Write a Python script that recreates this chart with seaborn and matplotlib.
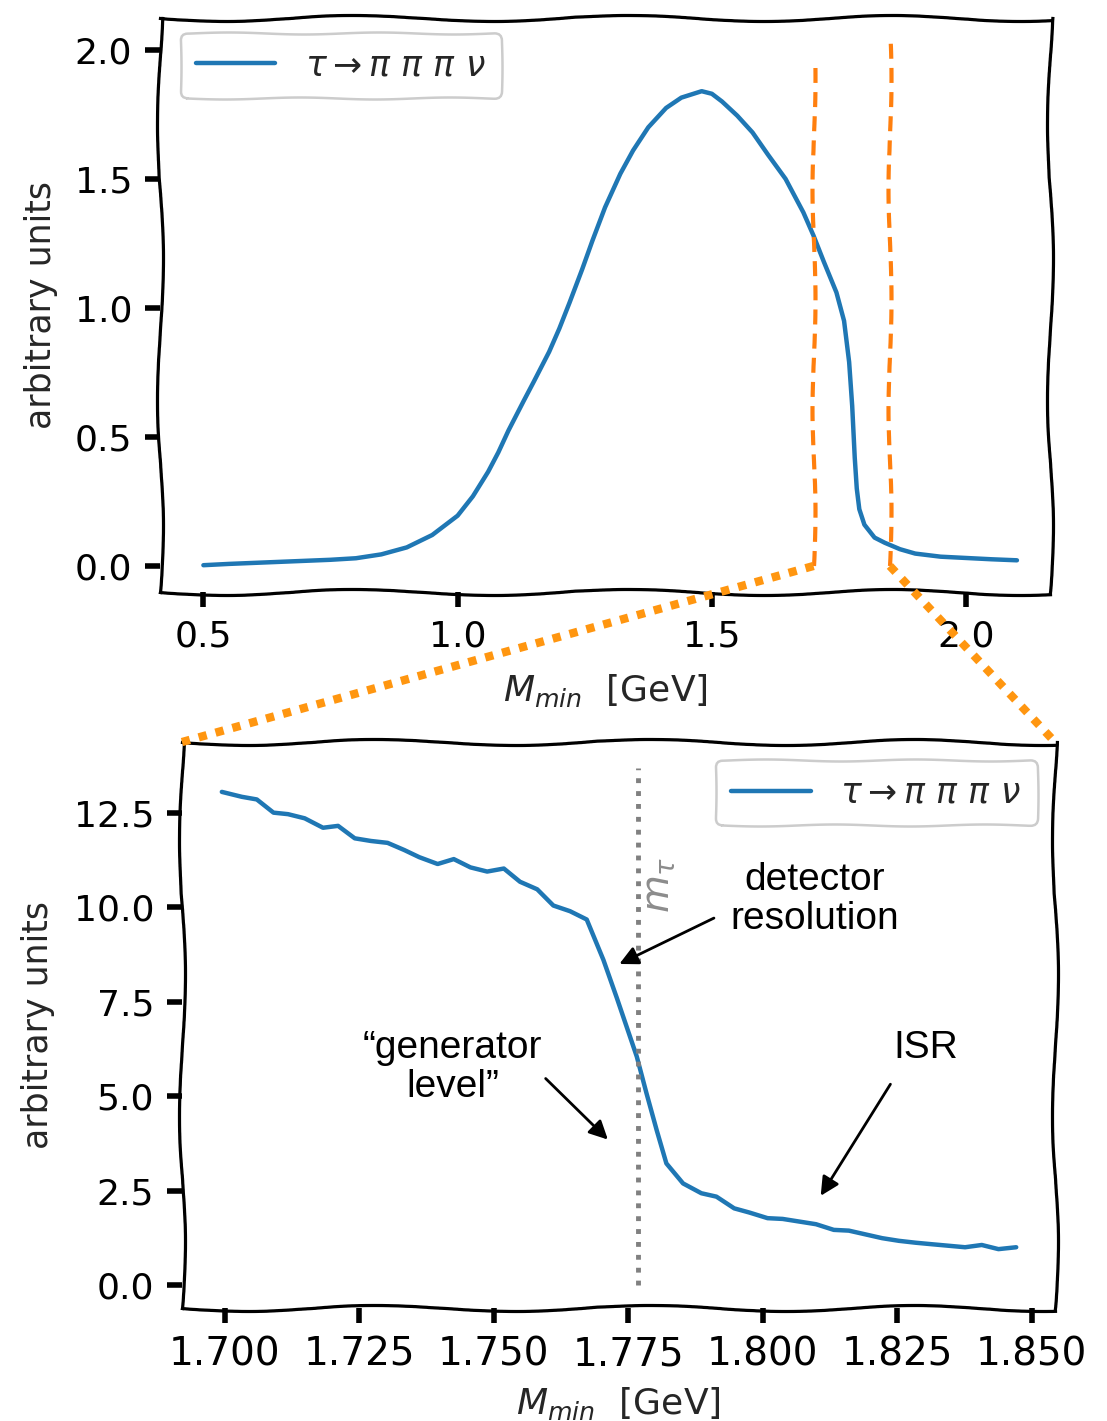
import matplotlib
matplotlib.use("Agg")
import matplotlib.pyplot as plt
import matplotlib.ticker as mticker
from matplotlib.patches import ConnectionPatch
import seaborn as sns

# ---------------- data ----------------
m_full = [0.50, 0.55, 0.60, 0.65, 0.70, 0.75, 0.80, 0.85, 0.90, 0.95,
          1.00, 1.03, 1.06, 1.08, 1.10, 1.13, 1.15, 1.18, 1.20, 1.22,
          1.245, 1.265, 1.29, 1.32, 1.345, 1.375, 1.41, 1.44, 1.48, 1.50,
          1.52, 1.55, 1.58, 1.61, 1.645, 1.68, 1.70, 1.72, 1.745, 1.76,
          1.77, 1.776, 1.781, 1.785, 1.79, 1.80, 1.82, 1.84, 1.87, 1.90,
          1.95, 2.00, 2.05, 2.10]
au_full = [0.003, 0.008, 0.012, 0.016, 0.020, 0.024, 0.030, 0.045, 0.072, 0.120,
           0.195, 0.27, 0.365, 0.44, 0.525, 0.64, 0.715, 0.83, 0.92, 1.02,
           1.15, 1.26, 1.39, 1.52, 1.61, 1.70, 1.775, 1.815, 1.84, 1.83,
           1.80, 1.745, 1.68, 1.595, 1.50, 1.37, 1.28, 1.18, 1.06, 0.95,
           0.79, 0.62, 0.42, 0.30, 0.22, 0.16, 0.11, 0.09, 0.065, 0.048,
           0.036, 0.031, 0.026, 0.022]

m_zoom = [1.6995, 1.7032, 1.7060, 1.7091, 1.7118, 1.7149, 1.7183, 1.7211, 1.7242, 1.7272,
          1.7303, 1.7334, 1.7362, 1.7396, 1.7426, 1.7457, 1.7488, 1.7519, 1.7549, 1.7581,
          1.7611, 1.7642, 1.7673, 1.7704, 1.7729, 1.7766, 1.7784, 1.7803, 1.7821, 1.7852,
          1.7886, 1.7914, 1.7947, 1.7975, 1.8009, 1.8037, 1.8068, 1.8099, 1.8132, 1.8160,
          1.8191, 1.8222, 1.8253, 1.8284, 1.8314, 1.8345, 1.8376, 1.8407, 1.8438, 1.8471]
au_zoom = [13.06, 12.93, 12.86, 12.51, 12.47, 12.36, 12.11, 12.16, 11.83, 11.76,
           11.71, 11.52, 11.33, 11.15, 11.28, 11.06, 10.95, 11.03, 10.68, 10.48,
           10.05, 9.90, 9.68, 8.61, 7.60, 6.05, 5.08, 4.10, 3.22, 2.69,
           2.43, 2.34, 2.03, 1.92, 1.77, 1.75, 1.68, 1.61, 1.46, 1.44,
           1.34, 1.24, 1.17, 1.12, 1.08, 1.04, 1.00, 1.06, 0.95, 1.00]

zoom_window = [1.70, 1.85]
window_line_tops = [1.93, 2.04]
m_tau = 1.77686
m_tau_line_top = 13.7
legend_label = r'$\tau \rightarrow \pi\ \pi\ \pi\ \nu$'

x_ticks_top = [0.5, 1.0, 1.5, 2.0]
y_ticks_top = [0.0, 0.5, 1.0, 1.5, 2.0]
x_ticks_bot = [1.700, 1.725, 1.750, 1.775, 1.800, 1.825, 1.850]
y_ticks_bot = [0.0, 2.5, 5.0, 7.5, 10.0, 12.5]

# ---------------- style ----------------
sns.set_theme(style="white")
plt.rcParams['font.family'] = ['DejaVu Sans']
plt.rcParams['mathtext.fontset'] = 'dejavusans'

BLUE = '#1f77b4'
ORANGE = '#ff7f0e'
ZOOM_ORANGE = '#ff9610'
ANNOT_FONT = ['Liberation Sans', 'DejaVu Sans']

fig = plt.figure(figsize=(11.07, 14.21), dpi=100)
ax1 = fig.add_axes([0.1445, 0.5834, 0.804, 0.404])
ax2 = fig.add_axes([0.1644, 0.0795, 0.7886, 0.3983])

# ---------------- top panel ----------------
sns.lineplot(x=m_full, y=au_full, ax=ax1, color=BLUE, lw=3.2, label=legend_label, sort=False)
for xv, top in zip(zoom_window, window_line_tops):
    ln, = ax1.plot([xv, xv], [0, top], color=ORANGE, lw=3, dashes=(3.6, 2.2),
                   solid_capstyle='butt', dash_capstyle='butt')
    ln.set_sketch_params(1.5, 220, 0.6)

ax1.set_xlim(0.4146, 2.165)
ax1.set_ylim(-0.1008, 2.124)
ax1.set_xticks(x_ticks_top)
ax1.set_yticks(y_ticks_top)
ax1.xaxis.set_major_formatter(mticker.FormatStrFormatter('%.1f'))
ax1.yaxis.set_major_formatter(mticker.FormatStrFormatter('%.1f'))
ax1.tick_params(axis='both', labelsize=26)
ax1.set_xlabel(r'$M_{min}$  [GeV]', fontsize=26)
ax1.set_ylabel('arbitrary units', fontsize=25)
ax1.xaxis.set_label_coords(0.501, -0.139)
ax1.yaxis.set_label_coords(-0.115, 0.5)

leg1 = ax1.legend(loc='upper left', bbox_to_anchor=(0.0225, 0.974), borderaxespad=0,
                  fontsize=25, handlelength=2.3, handletextpad=0.85, frameon=True,
                  fancybox=True, edgecolor='#cccccc', framealpha=1, borderpad=0.45)
leg1.get_frame().set_linewidth(1.8)
leg1.get_frame().set_sketch_params(1, 150, 1)

# ---------------- bottom panel ----------------
sns.lineplot(x=m_zoom, y=au_zoom, ax=ax2, color=BLUE, lw=3.2, label=legend_label, sort=False)
ax2.plot([m_tau, m_tau], [0, m_tau_line_top], color='#808080', lw=3.5, ls=':')
ax2.text(1.7808, 10.6, r'$m_\tau$', rotation=90, color='#8c8c8c', fontsize=28,
         ha='center', va='center')

ax2.set_xlim(1.6921, 1.8543)
ax2.set_ylim(-0.61, 14.38)
ax2.set_xticks(x_ticks_bot)
ax2.set_yticks(y_ticks_bot)
ax2.xaxis.set_major_formatter(mticker.FormatStrFormatter('%.3f'))
ax2.yaxis.set_major_formatter(mticker.FormatStrFormatter('%.1f'))
ax2.tick_params(axis='y', labelsize=26)
ax2.tick_params(axis='x', labelsize=28)
ax2.set_xlabel(r'$M_{min}$  [GeV]', fontsize=26)
ax2.set_ylabel('arbitrary units', fontsize=25)
ax2.xaxis.set_label_coords(0.4995, -0.136)
ax2.yaxis.set_label_coords(-0.145, 0.5)

leg2 = ax2.legend(loc='upper right', bbox_to_anchor=(0.979, 0.968), borderaxespad=0,
                  fontsize=25, handlelength=2.3, handletextpad=0.85, frameon=True,
                  fancybox=True, edgecolor='#cccccc', framealpha=1, borderpad=0.45)
leg2.get_frame().set_linewidth(1.8)
leg2.get_frame().set_sketch_params(1, 150, 1)

# annotations
ax2.text(1.8096, 10.22, 'detector\nresolution', fontsize=28, family=ANNOT_FONT,
         ha='center', va='center', linespacing=1.1, color='black')
ax2.annotate('', xy=(1.7729, 8.47), xytext=(1.7914, 9.75),
             arrowprops=dict(arrowstyle='-|>', color='black', lw=2, mutation_scale=28))
ax2.text(1.7424, 5.75, '\u201cgenerator\nlevel\u201d', fontsize=28, family=ANNOT_FONT,
         ha='center', va='center', linespacing=1.1, color='black')
ax2.annotate('', xy=(1.7716, 3.80), xytext=(1.7593, 5.52),
             arrowprops=dict(arrowstyle='-|>', color='black', lw=2, mutation_scale=28))
ax2.text(1.8302, 6.28, 'ISR', fontsize=28, family=ANNOT_FONT, ha='center', va='center',
         color='black')
ax2.annotate('', xy=(1.8105, 2.30), xytext=(1.8240, 5.38),
             arrowprops=dict(arrowstyle='-|>', color='black', lw=2, mutation_scale=28))

# ---------------- common axis styling ----------------
for ax in (ax1, ax2):
    for s in ax.spines.values():
        s.set_visible(True)
        s.set_linewidth(2.3)
        s.set_color('black')
        s.set_sketch_params(3, 280, 0.5)
    ax.tick_params(axis='both', which='major', bottom=True, left=True, top=False, right=False,
                   direction='out', length=11, width=4, color='black', pad=9,
                   labelcolor='black')
    ax.grid(False)
    ax.set_facecolor('white')

# ---------------- zoom connectors ----------------
for xv, corner in zip(zoom_window, [(0, 1), (1, 1)]):
    con = ConnectionPatch(xyA=(xv, 0), coordsA=ax1.transData,
                          xyB=corner, coordsB=ax2.transAxes,
                          color=ZOOM_ORANGE, lw=6, linestyle=(0, (1.0, 1.1)),
                          capstyle='butt', zorder=10)
    fig.add_artist(con)

fig.savefig('out.png', dpi=100, facecolor='white')
